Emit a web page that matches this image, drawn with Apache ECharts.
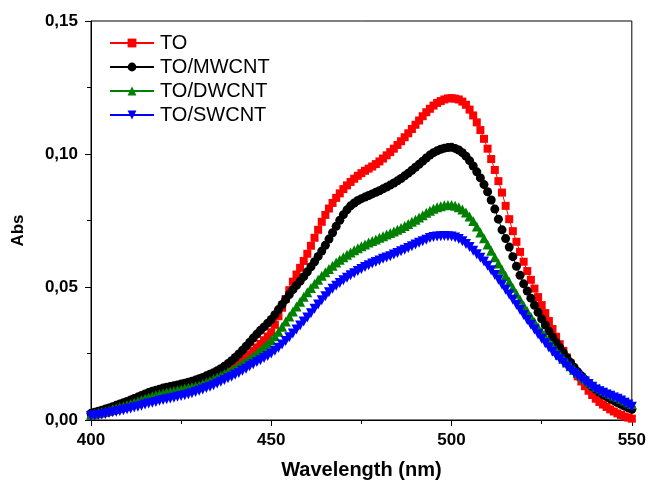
<!DOCTYPE html>
<html><head><meta charset="utf-8">
<script src="https://cdn.jsdelivr.net/npm/echarts@6/dist/echarts.min.js"></script>
<style>html,body{margin:0;padding:0;background:#fff}#c{width:649px;height:485px}</style>
</head><body><div id="c"></div>
<script>
// Wavelength grid (nm), every 1 nm from 400 to 550
const wavelengths = [400,401,402,403,404,405,406,407,408,409,410,411,412,413,414,415,416,417,418,419,420,421,422,423,424,425,426,427,428,429,430,431,432,433,434,435,436,437,438,439,440,441,442,443,444,445,446,447,448,449,450,451,452,453,454,455,456,457,458,459,460,461,462,463,464,465,466,467,468,469,470,471,472,473,474,475,476,477,478,479,480,481,482,483,484,485,486,487,488,489,490,491,492,493,494,495,496,497,498,499,500,501,502,503,504,505,506,507,508,509,510,511,512,513,514,515,516,517,518,519,520,521,522,523,524,525,526,527,528,529,530,531,532,533,534,535,536,537,538,539,540,541,542,543,544,545,546,547,548,549,550];

const seriesNames = ["TO","TO/MWCNT","TO/DWCNT","TO/SWCNT"];

const absTO = [.0015,.0018,.0021,.0024,.0027,.0030,.0034,.0038,.0042,.0046,.0050,.0055,.0060,.0065,.0070,.0075,.0079,.0083,.0087,.0091,.0095,.0099,.0103,.0107,.0111,.0115,.0119,.0123,.0127,.0131,.0135,.0139,.0144,.0149,.0154,.0160,.0167,.0174,.0182,.0191,.0200,.0211,.0222,.0234,.0247,.0260,.0273,.0286,.0300,.0314,.0330,.0358,.0390,.0422,.0455,.0488,.0520,.0547,.0572,.0598,.0625,.0655,.0685,.0715,.0745,.0771,.0795,.0816,.0835,.0852,.0868,.0882,.0895,.0907,.0918,.0928,.0937,.0945,.0953,.0962,.0972,.0983,.0995,.1007,.1020,.1034,.1048,.1063,.1078,.1094,.1110,.1126,.1142,.1157,.1170,.1182,.1192,.1199,.1205,.1209,.1210,.1208,.1205,.1197,.1185,.1167,.1145,.1119,.1090,.1057,.1020,.0981,.0940,.0898,.0855,.0805,.0755,.0710,.0670,.0632,.0595,.0560,.0527,.0494,.0462,.0432,.0402,.0372,.0342,.0313,.0285,.0260,.0235,.0210,.0185,.0164,.0145,.0127,.0110,.0094,.0080,.0068,.0058,.0049,.0040,.0032,.0025,.0019,.0013,.0009,.0005];

const absMWCNT = [.0025,.0029,.0033,.0037,.0041,.0045,.0050,.0055,.0060,.0065,.0070,.0075,.0081,.0086,.0092,.0098,.0103,.0108,.0112,.0116,.0120,.0123,.0126,.0129,.0132,.0135,.0138,.0142,.0146,.0150,.0155,.0160,.0166,.0172,.0178,.0185,.0193,.0202,.0212,.0223,.0235,.0248,.0262,.0277,.0292,.0308,.0323,.0337,.0350,.0364,.0378,.0396,.0415,.0434,.0453,.0472,.0490,.0506,.0522,.0539,.0557,.0576,.0595,.0615,.0635,.0657,.0680,.0704,.0728,.0751,.0772,.0790,.0805,.0816,.0825,.0832,.0838,.0844,.0850,.0856,.0862,.0869,.0876,.0883,.0891,.0899,.0908,.0918,.0928,.0939,.0950,.0961,.0973,.0985,.0996,.1005,.1012,.1018,.1022,.1024,.1025,.1021,.1015,.1005,.0992,.0975,.0955,.0933,.0910,.0885,.0858,.0827,.0793,.0755,.0715,.0682,.0650,.0614,.0578,.0544,.0512,.0485,.0458,.0431,.0405,.0380,.0357,.0334,.0312,.0291,.0272,.0253,.0234,.0216,.0198,.0181,.0166,.0152,.0138,.0126,.0115,.0105,.0096,.0088,.0080,.0073,.0066,.0059,.0052,.0046,.0040];

const absDWCNT = [.0020,.0023,.0026,.0029,.0032,.0036,.0040,.0043,.0047,.0051,.0055,.0060,.0065,.0070,.0075,.0080,.0085,.0089,.0093,.0097,.0100,.0103,.0106,.0109,.0112,.0115,.0118,.0121,.0124,.0127,.0130,.0135,.0141,.0147,.0153,.0160,.0166,.0173,.0180,.0187,.0195,.0203,.0212,.0221,.0230,.0240,.0251,.0262,.0274,.0287,.0300,.0315,.0332,.0351,.0370,.0389,.0408,.0427,.0445,.0463,.0480,.0496,.0512,.0527,.0542,.0555,.0568,.0580,.0592,.0602,.0612,.0621,.0630,.0638,.0646,.0653,.0660,.0667,.0673,.0679,.0685,.0691,.0697,.0703,.0709,.0715,.0722,.0729,.0737,.0745,.0753,.0761,.0770,.0779,.0787,.0794,.0800,.0804,.0807,.0808,.0808,.0805,.0800,.0791,.0780,.0765,.0748,.0727,.0705,.0683,.0660,.0636,.0612,.0588,.0565,.0542,.0520,.0497,.0475,.0452,.0430,.0409,.0388,.0368,.0349,.0331,.0313,.0295,.0278,.0261,.0245,.0230,.0216,.0202,.0189,.0177,.0165,.0154,.0144,.0134,.0125,.0118,.0111,.0104,.0098,.0092,.0086,.0080,.0073,.0067,.0060];

const absSWCNT = [.0015,.0017,.0019,.0021,.0023,.0026,.0029,.0031,.0034,.0037,.0040,.0043,.0047,.0050,.0054,.0058,.0062,.0065,.0068,.0072,.0075,.0078,.0081,.0084,.0087,.0090,.0093,.0097,.0101,.0105,.0110,.0115,.0120,.0125,.0131,.0137,.0144,.0150,.0157,.0163,.0170,.0177,.0185,.0193,.0202,.0210,.0218,.0225,.0233,.0241,.0250,.0260,.0272,.0284,.0297,.0311,.0325,.0340,.0355,.0370,.0385,.0401,.0418,.0434,.0450,.0465,.0480,.0493,.0505,.0515,.0525,.0535,.0544,.0552,.0560,.0568,.0575,.0582,.0588,.0594,.0600,.0606,.0611,.0616,.0622,.0628,.0634,.0640,.0647,.0653,.0660,.0666,.0672,.0678,.0684,.0688,.0690,.0691,.0692,.0691,.0690,.0686,.0680,.0672,.0662,.0650,.0636,.0623,.0610,.0596,.0580,.0563,.0545,.0527,.0508,.0490,.0472,.0452,.0433,.0414,.0395,.0376,.0358,.0340,.0322,.0305,.0289,.0273,.0257,.0242,.0228,.0215,.0202,.0189,.0177,.0166,.0156,.0145,.0135,.0125,.0115,.0108,.0102,.0096,.0091,.0085,.0080,.0073,.0065,.0058,.0050];

const xTicks = [400,450,500,550];
const yTicks = [0.00,0.05,0.10,0.15];

const chart = echarts.init(document.getElementById('c'), null, {renderer:'canvas'});
const pair = arr => wavelengths.map((w,i)=>[w,arr[i]]);
const fontFam = '"Liberation Sans", Arial, sans-serif';
const labelStyle = {color:'#000', fontWeight:'bold', fontSize:17, fontFamily:fontFam};

function mk(name, data, color, symbol, size, rotate){
  return {name, type:'line', data:pair(data), symbol, symbolSize:size, symbolRotate:rotate||0,
    showSymbol:true, showAllSymbol:true, animation:false,
    lineStyle:{color, width:1}, itemStyle:{color, borderWidth:0}, z:2};
}

chart.setOption({
  animation:false,
  backgroundColor:'#fff',
  grid:{left:91, right:17, top:21, bottom:63, show:true, borderColor:'#000', borderWidth:1, backgroundColor:'transparent'},
  legend:{
    orient:'vertical', left:109, top:33, padding:0, itemWidth:44, itemHeight:11, itemGap:4,
    textStyle:{fontSize:20, fontFamily:fontFam, color:'#000', padding:[0,0,0,1]},
    data:seriesNames.map(n=>({name:n}))
  },
  xAxis:{
    type:'value', min:400, max:550, interval:50,
    name:'Wavelength (nm)', nameLocation:'middle', nameGap:40,
    nameTextStyle:{color:'#000', fontWeight:'bold', fontSize:20, fontFamily:fontFam},
    axisLine:{show:true, onZero:false, lineStyle:{color:'#000', width:1}},
    axisTick:{show:true, inside:false, length:6, lineStyle:{color:'#000'}},
    minorTick:{show:true, splitNumber:2, length:4, lineStyle:{color:'#000'}},
    axisLabel:Object.assign({margin:12, formatter:v=> xTicks.includes(v)? String(v):''}, labelStyle),
    splitLine:{show:false}
  },
  yAxis:{
    type:'value', min:0, max:0.15, interval:0.05,
    name:'Abs', nameLocation:'middle', nameGap:64, nameRotate:90,
    nameTextStyle:{color:'#000', fontWeight:'bold', fontSize:17, fontFamily:fontFam, padding:[0,20,0,0]},
    axisLine:{show:true, onZero:false, lineStyle:{color:'#000', width:1}},
    axisTick:{show:true, inside:false, length:6, lineStyle:{color:'#000'}},
    minorTick:{show:true, splitNumber:2, length:4, lineStyle:{color:'#000'}},
    axisLabel:Object.assign({margin:13, formatter:v=>{
      const t = yTicks.find(y=>Math.abs(y-v)<1e-9);
      return t===undefined ? '' : t.toFixed(2).replace('.',',');
    }}, labelStyle),
    splitLine:{show:false}
  },
  series:[
    mk(seriesNames[0], absTO, '#ff0000', 'rect', 8),
    mk(seriesNames[1], absMWCNT, '#000000', 'circle', 9),
    mk(seriesNames[2], absDWCNT, '#008000', 'triangle', 10),
    mk(seriesNames[3], absSWCNT, '#0000ff', 'triangle', 10, 180)
  ]
});
</script></body></html>
